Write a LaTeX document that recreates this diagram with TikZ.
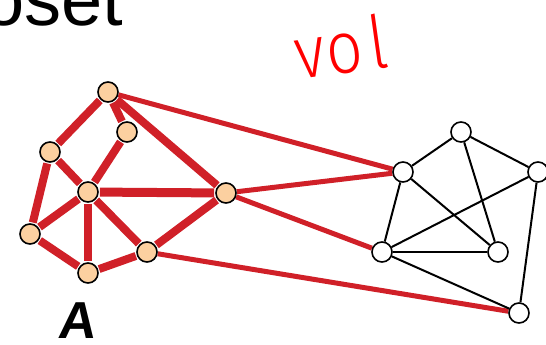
\documentclass[tikz,border=0pt]{standalone}
\usepackage{fontspec}
\setmainfont{Liberation Sans}
\IfFontExistsTF{Fira Sans Light}{\newfontfamily\handfont{Fira Sans Light}}{\newfontfamily\handfont{Liberation Sans}}
\definecolor{cutred}{RGB}{208,32,40}
\definecolor{peach}{RGB}{252,208,160}
\begin{document}
\begin{tikzpicture}[x=1pt,y=-1pt,
  vtx/.style={circle,draw=black,line width=1.6pt,minimum size=20pt,inner sep=0pt},
  avtx/.style={vtx,fill=peach},
  bvtx/.style={vtx,fill=white},
  inedge/.style={draw=cutred,line width=8pt,shorten <=1pt,shorten >=1pt},
  cutedge/.style={draw=cutred,line width=5pt},
  bedge/.style={draw=black,line width=2pt}]
\pgfdeclarelayer{bg}\pgfsetlayers{bg,main}
\useasboundingbox (0,0) rectangle (546,345);
% title (cropped)
\node[anchor=base west,inner sep=0pt,font=\fontsize{74}{80}\selectfont] (title) at (-17,26) {oset};
% handwritten annotation
\node[anchor=base west,inner sep=0pt,text=red,rotate=8,yscale=1.15,font=\handfont\fontsize{64}{66}\selectfont] (vol) at (298,80) {v\kern2pt o\kern6pt l};
% label A
\node[inner sep=0pt,font=\fontsize{52}{56}\bfseries\selectfont,xslant=0.12] (lab) at (78,321) {A};
% left vertices
\node[avtx] (a1) at (108,92) {};
\node[avtx] (a2) at (127,132) {};
\node[avtx] (a3) at (50,152) {};
\node[avtx] (a4) at (88,192) {};
\node[avtx] (a5) at (226,193) {};
\node[avtx] (a6) at (30,234) {};
\node[avtx] (a7) at (147,252) {};
\node[avtx] (a8) at (88,273) {};
% right vertices
\node[bvtx] (b1) at (461,132) {};
\node[bvtx] (b2) at (403,172) {};
\node[bvtx] (b3) at (538,172) {};
\node[bvtx] (b4) at (382,252) {};
\node[bvtx] (b5) at (498,252) {};
\node[bvtx] (b6) at (519,313) {};
\begin{pgfonlayer}{bg}
\foreach \u/\v in {a1/a3,a1/a2,a1/a5,a2/a4,a3/a4,a3/a6,a4/a6,a4/a8,a4/a7,a6/a8,a8/a7,a7/a5}
  \path[inedge] (\u) -- (\v);
\path[inedge,line width=9pt] (a4) -- (a5);
\foreach \u/\v in {a1/b2,a5/b2,a5/b4,a7/b6}
  \path[cutedge] (\u) -- (\v);
\foreach \u/\v in {b1/b2,b1/b3,b1/b5,b2/b4,b2/b5,b3/b4,b3/b6,b4/b5,b4/b6}
  \path[bedge] (\u) -- (\v);
\end{pgfonlayer}
\end{tikzpicture}
\end{document}
